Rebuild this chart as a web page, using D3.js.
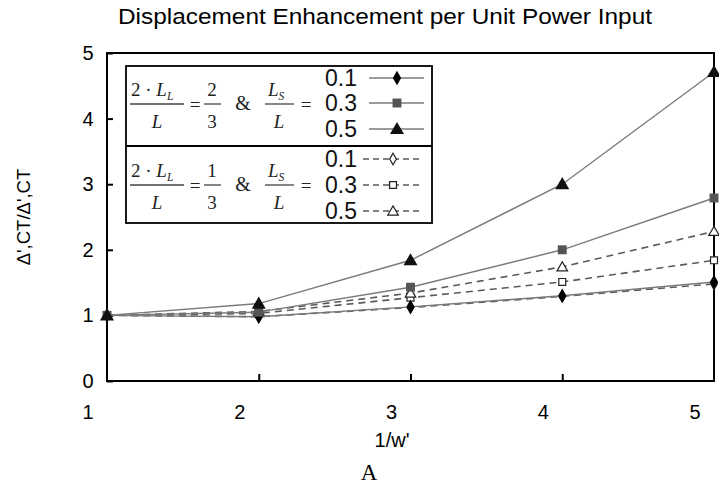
<!DOCTYPE html>
<html><head><meta charset="utf-8">
<script src="https://cdn.jsdelivr.net/npm/d3@7"></script>
<style>body{margin:0;background:#fff}svg{display:block}</style>
</head><body>
<svg id="c" width="719" height="494"></svg>
<script>
const xValues = [1, 2, 3, 4, 5];
const xTicks = [1, 2, 3, 4, 5];
const yTicks = [0, 1, 2, 3, 4, 5];
const seriesNames = ["0.1", "0.3", "0.5"];
const solid01 = [1, 0.98, 1.13, 1.30, 1.51];
const solid03 = [1, 1.05, 1.43, 2.00, 2.79];
const solid05 = [1, 1.18, 1.84, 3.00, 4.71];
const dash01 = [1, 0.98, 1.12, 1.29, 1.48];
const dash03 = [1, 1.03, 1.27, 1.51, 1.84];
const dash05 = [1, 1.06, 1.34, 1.74, 2.28];
const titleText = "Displacement Enhancement per Unit Power Input";
const xLabel = "1/w'";
const yLabel = "Δ',CT/Δ',CT";
const caption = "A";

const svg = d3.select("#c");
const SANS = "'Liberation Sans', Arial, sans-serif";
const SERIF = "'Liberation Serif', 'Times New Roman', serif";
const m = {l: 107, r: 714, t: 53, b: 381};
const x = d3.scaleLinear().domain([1, 5]).range([m.l, m.r]);
const y = d3.scaleLinear().domain([0, 5]).range([m.b, m.t]);

svg.append("text").attr("x", 385).attr("y", 24).attr("text-anchor", "middle")
  .attr("font-family", SANS).attr("font-size", 22).attr("textLength", 534).attr("lengthAdjust", "spacingAndGlyphs")
  .text(titleText);

// frame
svg.append("rect").attr("x", m.l).attr("y", m.t).attr("width", m.r - m.l).attr("height", m.b - m.t)
  .attr("fill", "none").attr("stroke", "#000").attr("stroke-width", 2);

// y axis
const ya = svg.append("g").attr("transform", `translate(${m.l},0)`)
  .call(d3.axisRight(y).tickValues(yTicks).tickSize(6).tickFormat(""));
ya.select(".domain").remove();
ya.selectAll("line").attr("stroke-width", 2);
svg.selectAll(".ylab").data(yTicks).join("text").attr("class", "ylab")
  .attr("x", 88).attr("y", d => y(d) + 7).attr("text-anchor", "middle")
  .attr("font-family", SANS).attr("font-size", 20).text(d => d);

// x axis
const xa = svg.append("g").attr("transform", `translate(0,${m.b})`)
  .call(d3.axisTop(x).tickValues(xTicks.slice(1, 4)).tickSize(7).tickFormat(""));
xa.select(".domain").remove();
xa.selectAll("line").attr("stroke-width", 2);
svg.selectAll(".xlab").data(xTicks).join("text").attr("class", "xlab")
  .attr("x", d => x(d) - 19).attr("y", 419).attr("text-anchor", "middle")
  .attr("font-family", SANS).attr("font-size", 20).text(d => d);

svg.append("text").attr("x", 392).attr("y", 447).attr("text-anchor", "middle")
  .attr("font-family", SANS).attr("font-size", 20).text(xLabel);
svg.append("text").attr("transform", "translate(30,217) rotate(-90)").attr("text-anchor", "middle")
  .attr("font-family", SANS).attr("font-size", 18.5).text(yLabel);
svg.append("text").attr("x", 369).attr("y", 480).attr("text-anchor", "middle")
  .attr("font-family", SERIF).attr("font-size", 23).text(caption);

const series = [
  {v: solid01, dash: false, shape: "diamond", fill: "#000"},
  {v: solid03, dash: false, shape: "square", fill: "#555"},
  {v: solid05, dash: false, shape: "triangle", fill: "#111"},
  {v: dash01, dash: true, shape: "diamond", fill: "#fff"},
  {v: dash03, dash: true, shape: "square", fill: "#fff"},
  {v: dash05, dash: true, shape: "triangle", fill: "#fff"}
];
const shapeOf = {diamond: d3.symbolDiamond, square: d3.symbolSquare, triangle: d3.symbolTriangle};
function sym(s) {
  const size = s.dash ? {diamond: 38, square: 48, triangle: 48}[s.shape] : {diamond: 60, square: 80, triangle: 85}[s.shape];
  return d3.symbol().type(shapeOf[s.shape]).size(size)();
}
const line = d3.line().x((d, i) => x(xValues[i])).y(d => y(d));

const plot = svg.append("g");
[3, 4, 5, 0, 1, 2].forEach(k => {
  const s = series[k];
  plot.append("path").attr("d", line(s.v)).attr("fill", "none")
    .attr("stroke", s.dash ? "#5a5a5a" : "#7a7a7a").attr("stroke-width", s.dash ? 1.6 : 1.4)
    .attr("stroke-dasharray", s.dash ? "7,5" : null);
});
[3, 4, 5, 0, 1, 2].forEach(k => {
  const s = series[k];
  plot.selectAll(null).data(s.v).join("path")
    .attr("transform", (d, i) => `translate(${x(xValues[i])},${y(d) + (s.shape === "triangle" ? 1 : 0)})`)
    .attr("d", sym(s)).attr("fill", s.fill).attr("stroke", s.dash ? "#222" : "none").attr("stroke-width", 1.2);
});

// legend
const L = svg.append("g");
L.append("rect").attr("x", 126).attr("y", 66).attr("width", 306).attr("height", 157)
  .attr("fill", "#fff").attr("stroke", "#000").attr("stroke-width", 1.8);
L.append("line").attr("x1", 126).attr("x2", 432).attr("y1", 146).attr("y2", 146)
  .attr("stroke", "#000").attr("stroke-width", 1.8);

function formula(g, dy, num2) {
  const fs = 19;
  const t = (xx, yy, txt, anchor = "middle", italic = false, size = fs) =>
    g.append("text").attr("x", xx).attr("y", yy + dy).attr("text-anchor", anchor)
      .attr("font-family", SERIF).attr("font-size", size).attr("font-style", italic ? "italic" : null)
      .attr("fill", "#222").text(txt);
  const bar = (x1, x2) => g.append("line").attr("x1", x1).attr("x2", x2).attr("y1", 104 + dy).attr("y2", 104 + dy)
    .attr("stroke", "#444").attr("stroke-width", 1.3);
  const n = g.append("text").attr("x", 131).attr("y", 96 + dy).attr("font-family", SERIF).attr("font-size", fs).attr("fill", "#222");
  n.append("tspan").text("2 · ");
  n.append("tspan").attr("font-style", "italic").text("L");
  n.append("tspan").attr("font-style", "italic").attr("font-size", 11.5).attr("dy", 4).text("L");
  bar(130, 184);
  t(157, 128, "L", "middle", true);
  t(195, 111, "=", "middle", false, 19);
  t(212, 96, num2);
  bar(204, 221);
  t(212, 128, "3");
  t(243, 110, "&", "middle", false, 20);
  const n2 = g.append("text").attr("x", 268).attr("y", 96 + dy).attr("font-family", SERIF).attr("font-size", fs).attr("fill", "#222");
  n2.append("tspan").attr("font-style", "italic").text("L");
  n2.append("tspan").attr("font-style", "italic").attr("font-size", 11.5).attr("dy", 4).text("S");
  bar(265, 294);
  t(279, 128, "L", "middle", true);
  t(306, 111, "=", "middle", false, 19);
}
formula(L, 0, "2");
formula(L, 81, "1");

const rowsY = [[78, 103, 129], [159, 185, 211]];
[0, 1].forEach(grp => {
  seriesNames.forEach((nm, i) => {
    const s = series[grp * 3 + i];
    const yy = rowsY[grp][i];
    L.append("text").attr("x", 325).attr("y", yy + 8).attr("font-family", SANS).attr("font-size", 23)
      .attr("fill", "#111").text(nm);
    const x1 = grp ? 363 : 369, x2 = grp ? 421 : 424;
    L.append("line").attr("x1", x1).attr("x2", x2).attr("y1", yy).attr("y2", yy)
      .attr("stroke", s.dash ? "#5a5a5a" : "#7a7a7a").attr("stroke-width", s.dash ? 1.6 : 1.4)
      .attr("stroke-dasharray", s.dash ? "6,4" : null);
    L.append("path").attr("transform", `translate(${grp ? 393 : 397},${yy + (s.shape === "triangle" ? 1 : 0)})`)
      .attr("d", sym(s)).attr("fill", s.fill).attr("stroke", s.dash ? "#222" : "none").attr("stroke-width", 1.2);
  });
});
</script>
</body></html>
